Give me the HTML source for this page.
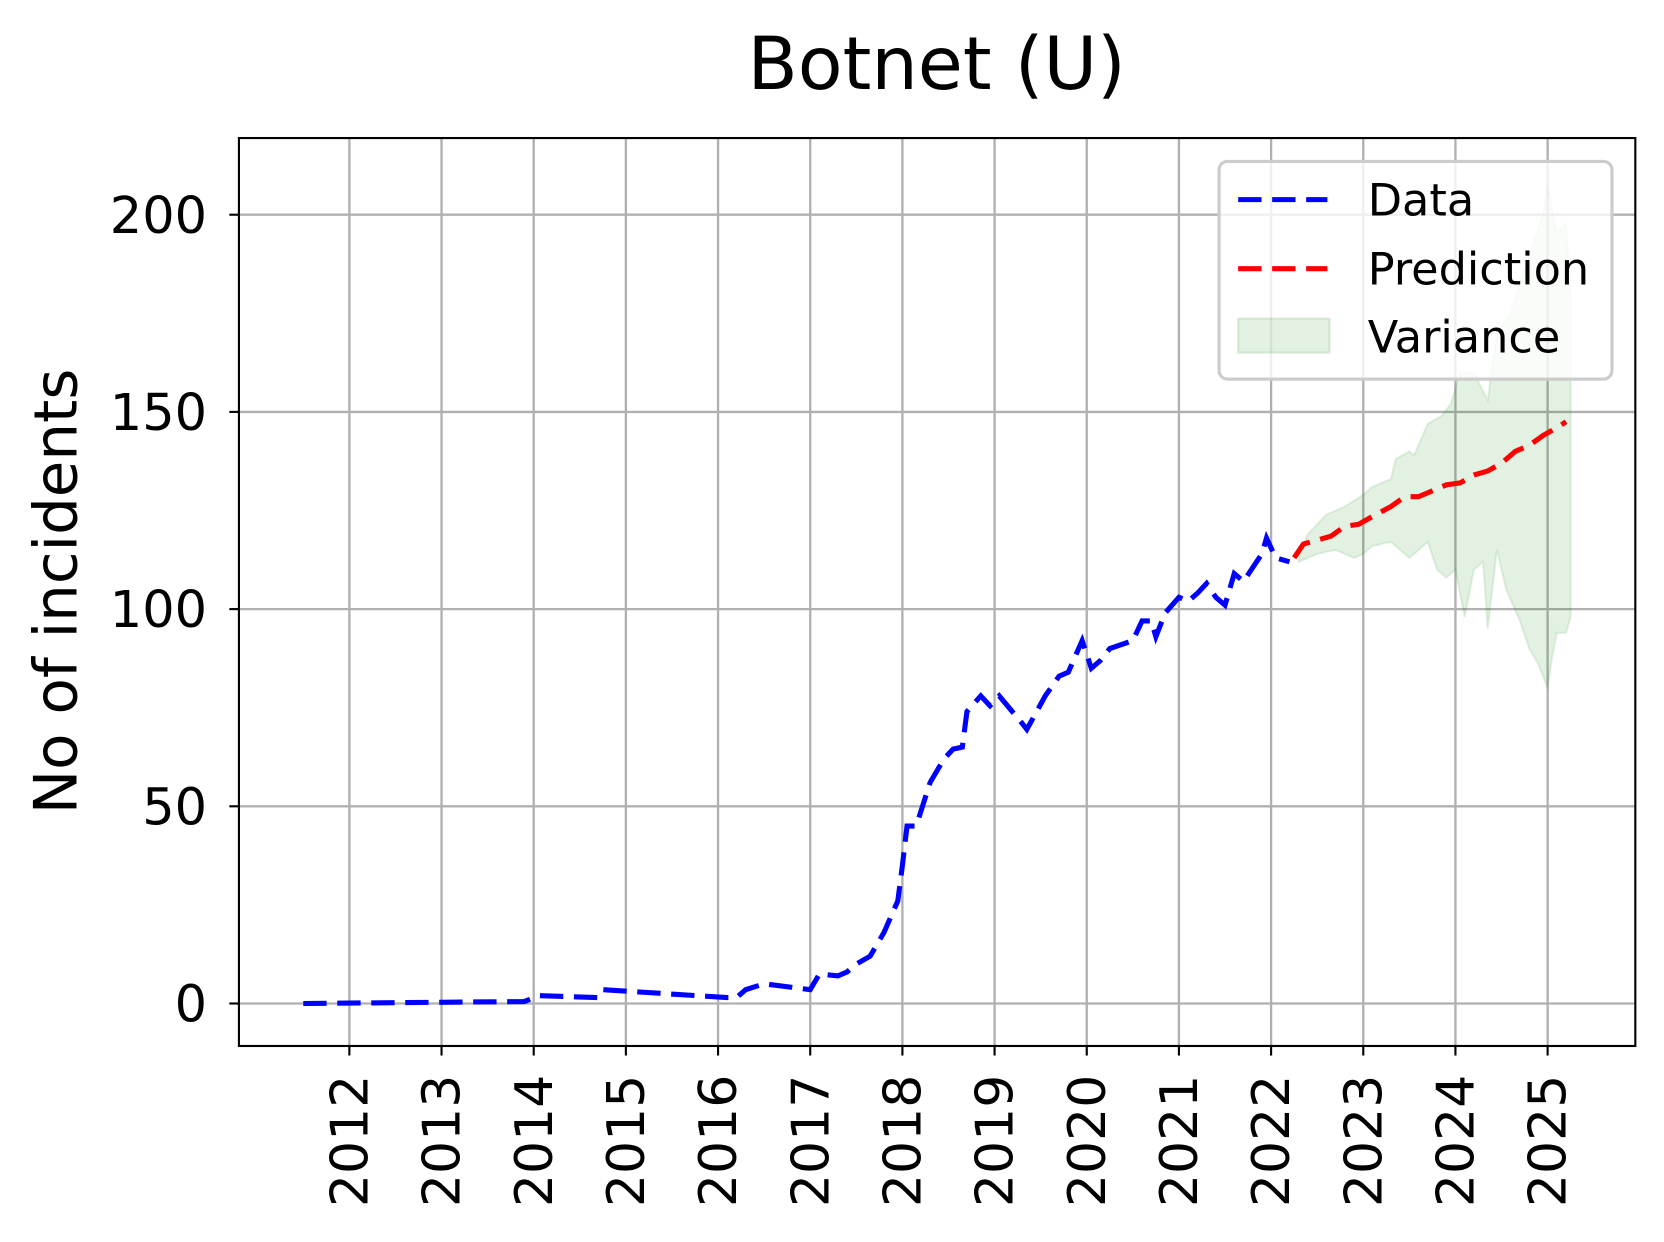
<!DOCTYPE html>
<html><head><meta charset="utf-8"><style>
body{margin:0;background:#fff;}
svg{display:block;}
svg text{font-family:"DejaVu Sans","Liberation Sans",sans-serif;fill:#000;}
</style></head><body>
<svg id="chart" width="1664" height="1242" viewBox="0 0 1567 1169.6" xmlns="http://www.w3.org/2000/svg">
<text x="882" y="84" font-size="69" text-anchor="middle">Botnet (U)</text>
<g id="grid"></g>
<g id="series"></g>
<rect x="225" y="130" width="1315" height="855" fill="none" stroke="#000" stroke-width="2"/>
<g id="axes"></g>
<text transform="translate(72,557) rotate(-90)" font-size="56" text-anchor="middle">No of incidents</text>
<g>
<rect x="1148" y="152" width="370" height="205" rx="8" fill="#fff" fill-opacity="0.8" stroke="#ccc" stroke-width="3"/>
<line x1="1166" y1="188" x2="1250" y2="188" stroke="#0000ff" stroke-width="4.8" stroke-dasharray="22 10"/>
<text x="1288" y="203" font-size="42">Data</text>
<line x1="1166" y1="253" x2="1250" y2="253" stroke="#ff0000" stroke-width="4.8" stroke-dasharray="22 10"/>
<text x="1288" y="268" font-size="42">Prediction</text>
<rect x="1166" y="300" width="86" height="32" fill="#008000" fill-opacity="0.11" stroke="#008000" stroke-opacity="0.13" stroke-width="2"/>
<text x="1288" y="332" font-size="42">Variance</text>
</g>
</svg>
<script>
const yTicks=[0,50,100,150,200];
const xTicks=[2012,2013,2014,2015,2016,2017,2018,2019,2020,2021,2022,2023,2024,2025];
const dataX=[2011.5,2013.9,2014.05,2014.7,2014.75,2016.1,2016.2,2016.3,2016.5,2017.0,2017.1,2017.3,2017.4,2017.5,2017.65,2017.8,2017.95,2018.0,2018.05,2018.15,2018.3,2018.45,2018.55,2018.65,2018.7,2018.85,2018.95,2019.05,2019.3,2019.35,2019.55,2019.7,2019.8,2019.95,2020.05,2020.15,2020.25,2020.5,2020.6,2020.7,2020.75,2020.85,2021.0,2021.1,2021.2,2021.3,2021.4,2021.5,2021.6,2021.7,2021.9,2021.95,2022.05,2022.2];
const dataY=[0,0.5,2,1.5,3.5,1.5,1.5,3.5,5,3.5,7.5,7,8,10,12,18,26,35,45,45,56,62,64.5,65,74,78,75.5,78,71,69.5,78,83,84,92,85,87,90,92,97,97,93,99,103,102,104,106.5,103,101,109,107,114,118,113,112];
const predX=[2022.25,2022.35,2022.5,2022.65,2022.8,2022.95,2023.1,2023.3,2023.45,2023.6,2023.75,2023.9,2024.05,2024.2,2024.35,2024.5,2024.65,2024.8,2024.95,2025.1,2025.2];
const predY=[113,116.5,117.5,118.5,121,121.5,123.5,126,128.5,128.5,130,131.5,132,134,135,137,140,141.5,144,146,147.5];
const upX=[2022.3,2022.4,2022.6,2022.8,2023.0,2023.1,2023.3,2023.35,2023.5,2023.55,2023.7,2023.85,2023.95,2024.05,2024.2,2024.35,2024.45,2024.6,2024.8,2024.95,2025.0,2025.1,2025.2,2025.25];
const upY=[114,119,124,126,129,131,133,138,140,139,147,149,152,160,160,153,170,175,190,200,208,195,198,180];
const loX=[2022.3,2022.5,2022.7,2022.9,2023.0,2023.1,2023.3,2023.5,2023.6,2023.7,2023.8,2023.9,2024.0,2024.05,2024.1,2024.2,2024.3,2024.35,2024.45,2024.55,2024.7,2024.8,2024.9,2025.0,2025.05,2025.1,2025.2,2025.25];
const loY=[112,114,115,113,114,116,117,113,115,117,110,108,110,104,98,110,112,95,115,105,97,90,86,80,88,94,94,98];

const NS='http://www.w3.org/2000/svg';
const xs=v=>329+(v-2012)*86.8;
const ys=v=>945-v*3.714;
function mk(tag,attrs,parent){const e=document.createElementNS(NS,tag);for(const k in attrs)e.setAttribute(k,attrs[k]);parent.appendChild(e);return e;}
const grid=document.getElementById('grid'),axes=document.getElementById('axes'),series=document.getElementById('series');
yTicks.forEach(t=>{
  const g=mk('line',{x1:225,x2:1540,y1:ys(t),y2:ys(t),stroke:'#b0b0b0','stroke-width':2.2},grid);
  
  
  mk('line',{x1:216,x2:225,y1:ys(t),y2:ys(t),stroke:'#000','stroke-width':2},axes);
  const l=mk('text',{x:195,y:ys(t)+17,'font-size':48,'text-anchor':'end'},axes);
  l.textContent=t;
  
  
});
xTicks.forEach(t=>{
  const g=mk('line',{x1:xs(t),x2:xs(t),y1:130,y2:985,stroke:'#b0b0b0','stroke-width':2.2},grid);
  
  
  mk('line',{x1:xs(t),x2:xs(t),y1:985,y2:994,stroke:'#000','stroke-width':2},axes);
  const l=mk('text',{transform:`translate(${xs(t)+17},1012) rotate(-90)`,'font-size':49,'text-anchor':'end'},axes);
  l.textContent=t;
  
  
});
let d='';upX.forEach((x,i)=>d+=(i?'L':'M')+xs(x)+','+ys(upY[i]));
for(let i=loX.length-1;i>=0;i--)d+='L'+xs(loX[i])+','+ys(loY[i]);
const band=mk('path',{d:d+'Z',fill:'#008000','fill-opacity':0.11,stroke:'#008000','stroke-opacity':0.1,'stroke-width':2},series);


const pts=(X,Y)=>X.map((x,i)=>xs(x)+','+ys(Y[i])).join(' ');
const dl=mk('polyline',{points:pts(dataX,dataY),fill:'none',stroke:'#0000ff','stroke-width':4.8,'stroke-dasharray':'22 10'},series);


const pl=mk('polyline',{points:pts(predX,predY),fill:'none',stroke:'#ff0000','stroke-width':4.8,'stroke-dasharray':'22 10'},series);


</script>
</body></html>
